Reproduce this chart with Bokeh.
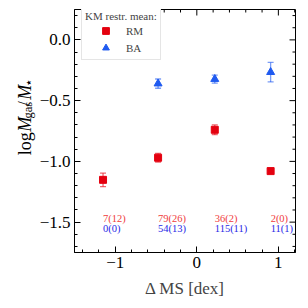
import numpy as np
from bokeh.plotting import figure
from bokeh.layouts import row
from bokeh.models import (ColumnDataSource, Range1d, FixedTicker,
                          Legend, LegendItem)
from bokeh.core.properties import value
from bokeh.embed import file_html
from bokeh.resources import INLINE

# ---------------- data ----------------
dms_bins = [-1.15, -0.475, 0.22, 0.905]
rm_x = [-1.15, -0.475, 0.22, 0.905]
rm_y = [-1.152, -0.970, -0.740, -1.080]
rm_err = [0.055, 0.035, 0.040, 0.010]
ba_x = [-0.475, 0.22, 0.905]
ba_y = [-0.360, -0.323, -0.266]
ba_err = [0.038, 0.033, 0.080]
n_rm = ["7(12)", "79(26)", "36(2)", "2(0)"]
n_ba = ["0(0)", "54(13)", "115(11)", "11(1)"]
x_ticks = [-1, 0, 1]
x_tick_labels = ["\u22121", "0", "1"]
y_ticks = [0.0, -0.5, -1.0, -1.5]
y_tick_labels = ["0.0", "\u22120.5", "\u22121.0", "\u22121.5"]
x_minor = [-1.4, -1.2, -0.8, -0.6, -0.4, -0.2, 0.2, 0.4, 0.6, 0.8, 1.2]
y_minor = [0.2, 0.1, -0.1, -0.2, -0.3, -0.4, -0.6, -0.7, -0.8, -0.9,
           -1.1, -1.2, -1.3, -1.4, -1.6, -1.7]

# ---------------- style ----------------
RED = "#e4000f"
BLUE = "#1f5af0"
RED_T = "#f03c3c"
BLUE_T = "#2828e6"
FONT = "Liberation Serif"
X0, X1 = -1.5, 1.21
Y0, Y1 = -1.75, 0.25
SIDE_W = 36

p = figure(width=306 - SIDE_W, height=300, output_backend="svg",
           toolbar_location=None,
           x_range=Range1d(X0, X1), y_range=Range1d(Y0, Y1),
           min_border_left=73 - SIDE_W, min_border_right=11, min_border_top=9,
           min_border_bottom=45)
p.xgrid.visible = False
p.ygrid.visible = False
p.outline_line_color = "black"
p.outline_line_width = 1
p.background_fill_color = "white"
p.border_fill_color = "white"


def style_axis(ax, ticks, minor, labels):
    ax.ticker = FixedTicker(ticks=ticks, minor_ticks=minor)
    ax.major_tick_in = 6
    ax.major_tick_out = 0
    ax.minor_tick_in = 3
    ax.minor_tick_out = 0
    ax.major_tick_line_color = "black"
    ax.minor_tick_line_color = "black"
    ax.axis_line_color = "black"
    ax.major_label_text_font = FONT
    ax.major_label_text_font_size = "17px"
    ax.major_label_text_color = "black"
    ax.major_label_overrides = {t: l for t, l in zip(ticks, labels)}


style_axis(p.xaxis[0], x_ticks, x_minor, x_tick_labels)
style_axis(p.yaxis[0], y_ticks, y_minor, y_tick_labels)
p.xaxis[0].major_label_standoff = 4
p.yaxis[0].major_label_standoff = 4
p.xaxis[0].axis_label = "\u0394 MS [dex]"
p.xaxis[0].axis_label_text_font = FONT
p.xaxis[0].axis_label_text_font_size = "17px"
p.xaxis[0].axis_label_text_font_style = "normal"
p.xaxis[0].axis_label_standoff = 8

# ticks on top and right edges (inner halves of dashes, outer halves clipped)
p.scatter(x=x_ticks, y=[Y1] * len(x_ticks), marker="dash", angle=np.pi / 2,
          size=12, line_color="black", line_width=1)
p.scatter(x=x_minor, y=[Y1] * len(x_minor), marker="dash", angle=np.pi / 2,
          size=6, line_color="black", line_width=1)
p.scatter(x=[X1] * len(y_ticks), y=y_ticks, marker="dash", size=12,
          line_color="black", line_width=1)
p.scatter(x=[X1] * len(y_minor), y=y_minor, marker="dash", size=6,
          line_color="black", line_width=1)

# ---------------- error bars ----------------
def errbars(xs, ys, es, color):
    xs = np.asarray(xs); ys = np.asarray(ys); es = np.asarray(es)
    p.segment(x0=xs, y0=ys - es, x1=xs, y1=ys + es, line_color=color,
              line_alpha=0.6, line_width=1.3)
    p.scatter(x=np.concatenate([xs, xs]), y=np.concatenate([ys - es, ys + es]),
              marker="dash", size=6, line_color=color, line_alpha=0.6,
              line_width=1.3)


errbars(rm_x, rm_y, rm_err, RED)
errbars(ba_x, ba_y, ba_err, BLUE)

r_rm = p.scatter(x=rm_x, y=rm_y, marker="square", size=7, fill_color=RED,
                 line_color=RED)
r_ba = p.scatter(x=ba_x, y=ba_y, marker="triangle", size=8, fill_color=BLUE,
                 line_color=BLUE)

# ---------------- counts ----------------
src_n = ColumnDataSource(dict(x=dms_bins, rm=n_rm, ba=n_ba,
                              yr=[-1.468] * len(dms_bins),
                              yb=[-1.553] * len(dms_bins)))
p.text(x="x", y="yr", text="rm", source=src_n, text_color=RED_T,
       text_font=value(FONT), text_font_size="10.5px", text_align="left",
       text_baseline="middle")
p.text(x="x", y="yb", text="ba", source=src_n, text_color=BLUE_T,
       text_font=value(FONT), text_font_size="10.5px", text_align="left",
       text_baseline="middle")

# ---------------- legend ----------------
legend = Legend(items=[LegendItem(label="RM", renderers=[r_rm]),
                       LegendItem(label="BA", renderers=[r_ba])],
                location=(7, 192))
legend.title = "KM restr. mean:"
legend.title_text_font = FONT
legend.title_text_font_size = "11px"
legend.title_text_font_style = "normal"
legend.title_standoff = 0
legend.label_text_font = FONT
legend.label_text_font_size = "11px"
legend.padding = 3
legend.glyph_width = 41
legend.glyph_height = 17
legend.label_height = 12
legend.label_standoff = 0
legend.spacing = -4
legend.margin = 0
legend.border_line_color = "#cccccc"
legend.border_line_width = 1
legend.background_fill_alpha = 1.0
p.add_layout(legend)

# ---------------- y label (composed, in a narrow side figure) ----------------
ylab = figure(width=SIDE_W, height=300, output_backend="svg",
              toolbar_location=None,
              x_range=Range1d(0, SIDE_W), y_range=Range1d(300, 0),
              x_axis_type=None, y_axis_type=None,
              min_border_left=0, min_border_right=0, min_border_top=0,
              min_border_bottom=0)
ylab.xgrid.visible = False
ylab.ygrid.visible = False
ylab.outline_line_color = None
ylab.background_fill_color = "white"
ylab.border_fill_color = "white"

ylab_parts = [("log", 24, 180, "18px", "normal", FONT),
              ("M", 24, 151, "18px", "italic", FONT),
              ("gas", 27.5, 134.5, "12.5px", "normal", FONT),
              ("/", 24, 119.5, "18px", "normal", FONT),
              ("M", 24, 111.5, "18px", "italic", FONT),
              ("\u22c6", 28, 95.5, "13px", "normal", "DejaVu Sans")]
for txt, px, py, fs, st, fn in ylab_parts:
    ylab.text(x=[px], y=[py], text=[txt], angle=np.pi / 2,
              text_font=value(fn), text_font_size=fs, text_font_style=st,
              text_align="left", text_baseline="alphabetic",
              text_color="black")

layout = row(ylab, p, spacing=0)
open("out.html", "w").write(file_html(layout, INLINE))
